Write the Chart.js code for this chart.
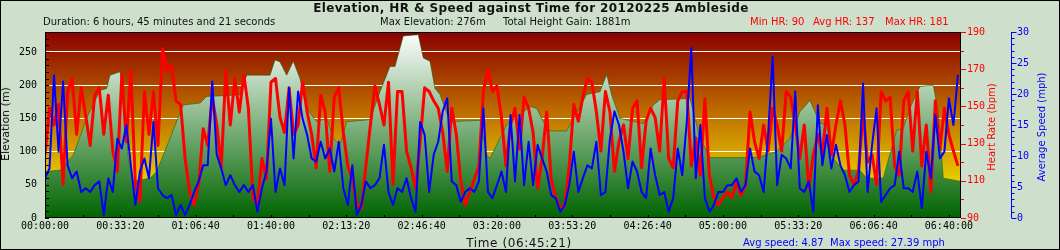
<!DOCTYPE html>
<html>
<head>
<meta charset="utf-8">
<script src="https://cdn.jsdelivr.net/npm/chart.js@4.4.1/dist/chart.umd.min.js"></script>
<style>
body{margin:0;background:#cee0cc;}
#wrap{position:relative;width:1060px;height:250px;background:#cee0cc;font-family:"DejaVu Sans",sans-serif;overflow:hidden;color:#111}
#wrap canvas{position:absolute;left:0;top:0}
.txt{position:absolute;white-space:pre;font-size:10px;line-height:12px}
.rot{position:absolute;white-space:nowrap;transform:translate(-50%,-50%) rotate(-90deg);line-height:12px}
#edge{position:absolute;left:0;top:0;width:1060px;height:250px;box-sizing:border-box;border:1px solid #000;pointer-events:none}
</style>
</head>
<body>
<div id="wrap">
<canvas id="chart" width="1060" height="250"></canvas>

<div class="txt" style="left:0;width:1062px;top:1px;text-align:center;font-weight:bold;font-size:12px;letter-spacing:0.4px;line-height:14px">Elevation, HR &amp; Speed against Time for 20120225 Ambleside</div>
<div class="txt" style="left:43px;top:16px">Duration: 6 hours, 45 minutes and 21 seconds</div>
<div class="txt" style="left:380px;top:16px">Max Elevation: 276m</div>
<div class="txt" style="left:503px;top:16px">Total Height Gain: 1881m</div>
<div class="txt" style="left:750px;top:16px;color:#ff0000">Min HR: 90</div>
<div class="txt" style="left:813px;top:16px;color:#ff0000">Avg HR: 137</div>
<div class="txt" style="left:885px;top:16px;color:#ff0000">Max HR: 181</div>

<div class="rot" style="left:6px;top:124px;font-size:11px">Elevation (m)</div>
<div class="rot" style="left:992px;top:127px;font-size:10px;color:#ff0000">Heart Rate (bpm)</div>
<div class="rot" style="left:1042px;top:127px;font-size:10px;color:#0000ff">Average Speed (mph)</div>

<div class="txt" style="left:0;width:1038px;top:236px;text-align:center;font-size:12px;letter-spacing:0.6px;line-height:14px">Time (06:45:21)</div>
<div class="txt" style="left:743px;top:237px;color:#0000ff">Avg speed: 4.87  Max speed: 27.39 mph</div>

<div id="edge"></div>
</div>

<script>
// log resampled every 2 minutes for HR and speed
const SAMPLE_SECONDS = 120;
const TOTAL_SECONDS = 24321;
const TIME_TICK = 2000;

// elevation profile (elapsed seconds -> metres)
const elevSeconds = [0,398,751,1107,1460,1638,1726,1991,2079,2212,
  2344,2788,2966,3319,3672,4115,4293,5177,5355,5974,
  6107,6239,6417,6592,6770,6948,7214,7479,7654,7832,
  8010,8629,8894,9160,9293,9513,9911,10044,10222,10355,
  10487,10753,11549,11727,11815,12258,12611,12877,13055,13275,
  13408,13851,14382,14735,14913,15046,15266,15885,16150,16328,
  17125,17390,17656,18763,18983,19426,19779,20045,20311,20576,
  20754,20930,21195,21638,21816,22257,22613,22788,22966,23231,
  23585,23717,23850,24321];
const elevMetres = [70,72,95,150,192,195,215,220,190,90,
  55,60,70,120,170,173,183,185,215,215,
  238,235,215,236,210,165,145,150,120,110,
  145,148,190,228,228,274,276,241,236,195,
  186,145,147,95,90,140,155,168,165,140,
  131,131,186,190,216,185,150,142,170,178,
  180,120,91,91,92,100,120,160,177,143,
  140,90,72,72,60,60,132,135,165,198,
  200,160,60,55];

const heartRate = [
  124,149,140,151,108,158,165,135,160,145,
  129,156,160,135,156,126,115,167,131,169,
  108,99,158,135,158,129,181,169,172,153,
  151,122,104,97,108,138,129,155,140,117,
  169,140,165,147,167,149,101,97,122,111,
  163,165,144,136,160,135,140,163,147,135,
  117,156,147,115,155,160,136,118,111,97,
  95,118,140,161,151,140,163,108,158,158,
  126,117,106,131,160,158,153,149,136,115,
  149,135,110,97,104,111,118,158,170,158,
  161,144,118,140,149,127,155,149,136,106,
  122,147,111,101,95,97,118,151,142,155,
  165,163,147,126,158,147,115,131,140,122,
  149,153,117,142,149,144,126,165,122,117,
  153,158,158,118,133,113,154,113,101,97,
  101,104,101,109,102,108,147,131,122,140,
  126,149,140,126,158,155,140,122,140,106,
  124,135,124,149,124,140,153,140,113,108,
  115,147,120,124,108,158,153,155,118,113,
  153,158,126,158,118,140,104,153,127,149,
  135,126,118];

const speedMph = [
  6.4,8.0,23,10.7,22,8.5,6.4,7.5,4.2,4.8,
  4.2,5.3,5.9,0.5,6.4,4.2,12.8,11.2,15,8.5,
  2.1,7.5,9.6,6.4,15.5,4.8,3.7,3.2,3.7,0.5,
  2.1,0.5,2.1,4.2,5.9,8.5,8.5,22,10.2,8.0,
  5.3,6.9,5.3,4.2,5.3,4.2,5.3,1.0,4.8,7.5,
  16,4.2,8.0,5.3,21,9.6,20.4,16,13.4,9.6,
  9.1,12.3,9.6,11.2,7.5,12.3,4.8,2.1,8.5,0.5,
  2.1,5.9,4.8,5.3,6.4,11.8,4.2,2.1,4.8,4.2,
  6.4,3.2,1.0,15.5,13.4,4.2,10.2,12.3,17.2,19.3,
  5.9,5.3,2.6,4.2,4.8,4.2,5.9,17.7,4.2,3.2,
  5.3,7.5,4.2,16.6,5.9,16.6,5.3,12.3,5.3,11.8,
  9.6,7.5,3.7,3.2,1.0,2.1,5.3,10.7,4.2,6.4,
  8.5,8.0,12.3,3.7,4.2,12.8,17.2,15.0,10.7,4.8,
  9.1,7.5,4.2,3.2,11.2,6.9,3.7,4.2,1.0,3.2,
  11.2,6.9,15.5,27.4,6.4,15.0,3.2,1.0,2.1,4.2,
  4.2,5.3,5.3,6.4,4.2,5.3,11.2,7.5,6.9,4.2,
  13.4,26.0,5.3,10.2,9.6,8.0,20.4,4.8,4.2,5.9,
  1.0,18.2,8.5,13.4,8.0,11.8,8.5,6.9,4.2,5.3,
  5.9,21.7,4.2,11.8,17.7,2.6,3.7,4.8,5.3,10.7,
  4.8,4.8,4.2,7.5,1.6,10.7,6.4,16.6,9.6,10.7,
  19.3,15.0,23.1];

function clock(s){
  let h=Math.floor(s/3600), m=Math.floor(s%3600/60), sec=Math.round(s%60);
  return [h,m,sec].map(n=>String(n).padStart(2,"0")).join(":");
}

let elevData=elevSeconds.map((t,i)=>({x:t,y:elevMetres[i]}));
let hrData=heartRate.map((v,i)=>({x:i*SAMPLE_SECONDS,y:v}));
let speedData=speedMph.map((v,i)=>({x:i*SAMPLE_SECONDS,y:v}));

function elevFill(c){
  let a=c.chart.chartArea;
  if(!a) return "#006400";
  let g=c.chart.ctx.createLinearGradient(0,a.bottom,0,a.top);
  g.addColorStop(0,"#006400");
  g.addColorStop(1,"#ffffff");
  return g;
}

// plot background, inner tick marks, frame and the right hand axes
const framePlugin={
  id:"frame",
  beforeDraw(chart){
    let {ctx,chartArea:a}=chart;
    let g=ctx.createLinearGradient(0,a.top,0,a.bottom);
    g.addColorStop(0,"#8b0000");
    g.addColorStop(1,"#ffff00");
    ctx.save();
    ctx.fillStyle=g;
    ctx.fillRect(a.left,a.top,a.right-a.left,a.bottom-a.top);
    ctx.restore();
  },
  afterDatasetsDraw(chart){
    let {ctx,chartArea:a,scales}=chart;
    ctx.save();
    ctx.lineWidth=1;

    ctx.strokeStyle="#000";
    ctx.beginPath();
    for(let v=0;v<=scales.y.max;v+=10){
      let y=Math.round(scales.y.getPixelForValue(v))+0.5;
      ctx.moveTo(a.left,y); ctx.lineTo(a.left+4,y);
    }
    for(let t=TIME_TICK/2;t<scales.x.max;t+=TIME_TICK/2){
      let x=Math.round(scales.x.getPixelForValue(t))+0.5;
      ctx.moveTo(x,a.bottom); ctx.lineTo(x,a.bottom-3);
    }
    ctx.stroke();
    ctx.strokeRect(a.left+0.5,a.top+0.5,a.right-a.left-1,a.bottom-a.top-1);

    let hr=scales.hr;
    ctx.strokeStyle="#ff0000";
    ctx.beginPath();
    for(let v=hr.min;v<=hr.max;v+=10){
      let y=Math.round(hr.getPixelForValue(v))+0.5;
      ctx.moveTo(a.right,y); ctx.lineTo(a.right+((v-hr.min)%20===0?5:3),y);
    }
    ctx.stroke();

    let sp=scales.spd;
    let x0=sp.left+0.5;
    ctx.strokeStyle="#0000ff";
    ctx.beginPath();
    ctx.moveTo(x0,a.top); ctx.lineTo(x0,a.bottom);
    for(let v=sp.min;v<=sp.max;v+=1){
      let y=Math.round(sp.getPixelForValue(v))+0.5;
      ctx.moveTo(x0,y); ctx.lineTo(x0+(v%5===0?5:3),y);
    }
    ctx.stroke();
    ctx.restore();
  }
};

const tickFont={family:"DejaVu Sans Mono",size:10};

new Chart(document.getElementById("chart"),{
  type:"line",
  data:{
    datasets:[
      {label:"Speed",data:speedData,yAxisID:"spd",borderColor:"#0000ff",borderWidth:2,
        borderJoinStyle:"round",pointRadius:0,tension:0,order:1},
      {label:"Heart rate",data:hrData,yAxisID:"hr",borderColor:"#ff0000",borderWidth:3,
        borderJoinStyle:"round",pointRadius:0,tension:0,order:2},
      {label:"Elevation",data:elevData,yAxisID:"y",borderColor:"rgba(0,90,0,0.5)",borderWidth:1,
        backgroundColor:elevFill,fill:"origin",pointRadius:0,tension:0,order:3}
    ]
  },
  options:{
    responsive:false,
    animation:false,
    layout:{padding:{top:32,left:0,right:0,bottom:0}},
    plugins:{legend:{display:false},tooltip:{enabled:false},title:{display:false}},
    scales:{
      x:{
        type:"linear",min:0,max:TOTAL_SECONDS,
        afterFit:s=>{s.height=32;},
        afterBuildTicks:s=>{
          let ticks=[];
          for(let t=0;t<=s.max;t+=TIME_TICK) ticks.push({value:t});
          s.ticks=ticks;
        },
        grid:{display:false,drawTicks:false},
        border:{display:false},
        ticks:{autoSkip:false,maxRotation:0,padding:2,
          color:"#000",font:tickFont,callback:v=>clock(v)}
      },
      y:{
        position:"left",min:0,max:280,
        afterFit:s=>{s.width=45;},
        grid:{color:c=>c.tick&&c.tick.value>0?"#ffffff":"rgba(0,0,0,0)",drawTicks:false},
        border:{display:false},
        ticks:{stepSize:50,includeBounds:false,padding:8,color:"#000",font:tickFont}
      },
      hr:{
        position:"right",min:90,max:190,
        afterFit:s=>{s.width=50;},
        grid:{display:false,drawTicks:false},
        border:{display:false},
        ticks:{stepSize:20,padding:6,color:"#ff0000",font:tickFont}
      },
      spd:{
        position:"right",min:0,max:30,
        afterFit:s=>{s.width=49;},
        grid:{display:false,drawTicks:false},
        border:{display:false},
        ticks:{stepSize:5,padding:6,color:"#0000ff",font:tickFont}
      }
    }
  },
  plugins:[framePlugin]
});
</script>
</body>
</html>
